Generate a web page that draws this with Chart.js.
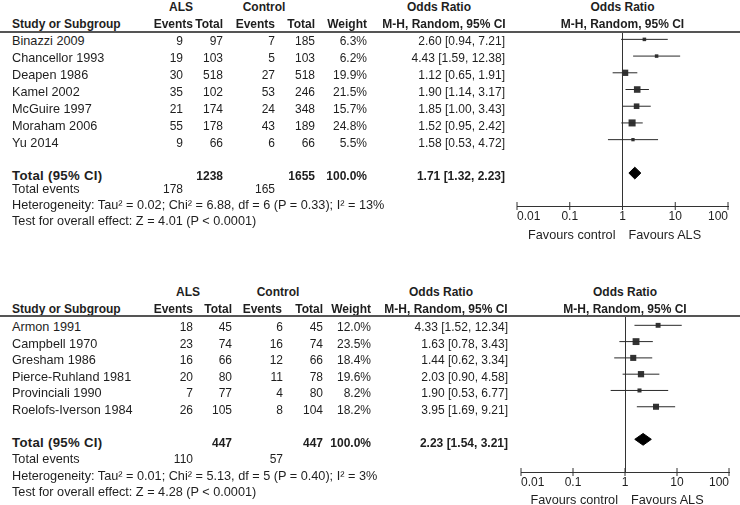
<!DOCTYPE html>
<html>
<head>
<meta charset="utf-8">
<script src="https://cdn.jsdelivr.net/npm/chart.js@4.4.0/dist/chart.umd.min.js"></script>
<style>
  html, body { margin: 0; padding: 0; background: #fff; }
  #page { position: relative; width: 740px; height: 505px; overflow: hidden;
          font-family: 'Liberation Sans', Arial, sans-serif; font-size: 12px; color: #1e1e1e; }
  .t { position: absolute; white-space: nowrap; line-height: 14px; height: 14px; }
  .b { font-weight: bold; }
  .lbl { font-size: 12.7px; }
  .lbl.b { font-size: 13.2px; letter-spacing: 0.3px; }
  .rule { position: absolute; left: 0; width: 740px; height: 2px; background: #555; }
  canvas { position: absolute; }
</style>
</head>
<body>
<div id="page">
  <canvas id="plot-one"></canvas>
  <canvas id="plot-two"></canvas>
</div>
<script>
'use strict';

// #pragma Data - first group

let studiesOne = ['Binazzi 2009', 'Chancellor 1993', 'Deapen 1986', 'Kamel 2002', 'McGuire 1997', 'Moraham 2006', 'Yu 2014'];
let alsEventsOne = [9, 19, 30, 35, 21, 55, 9];
let alsTotalOne = [97, 103, 518, 102, 174, 178, 66];
let ctlEventsOne = [7, 5, 27, 53, 24, 43, 6];
let ctlTotalOne = [185, 103, 518, 246, 348, 189, 66];
let weightOne = [6.3, 6.2, 19.9, 21.5, 15.7, 24.8, 5.5];
let orOne = [2.60, 4.43, 1.12, 1.90, 1.85, 1.52, 1.58];
let lowOne = [0.94, 1.59, 0.65, 1.14, 1.00, 0.95, 0.53];
let highOne = [7.21, 12.38, 1.91, 3.17, 3.43, 2.42, 4.72];
let pooledOne = [1.71, 1.32, 2.23];
let totalsOne = [1238, 1655];
let totalEventsOne = [178, 165];
let hetOne = 'Heterogeneity: Tau² = 0.02; Chi² = 6.88, df = 6 (P = 0.33); I² = 13%';
let testOne = 'Test for overall effect: Z = 4.01 (P < 0.0001)';

// #pragma Data - second group

let studiesTwo = ['Armon 1991', 'Campbell 1970', 'Gresham 1986', 'Pierce-Ruhland 1981', 'Provinciali 1990', 'Roelofs-Iverson 1984'];
let alsEventsTwo = [18, 23, 16, 20, 7, 26];
let alsTotalTwo = [45, 74, 66, 80, 77, 105];
let ctlEventsTwo = [6, 16, 12, 11, 4, 8];
let ctlTotalTwo = [45, 74, 66, 78, 80, 104];
let weightTwo = [12.0, 23.5, 18.4, 19.6, 8.2, 18.2];
let orTwo = [4.33, 1.63, 1.44, 2.03, 1.90, 3.95];
let lowTwo = [1.52, 0.78, 0.62, 0.90, 0.53, 1.69];
let highTwo = [12.34, 3.43, 3.34, 4.58, 6.77, 9.21];
let pooledTwo = [2.23, 1.54, 3.21];
let totalsTwo = [447, 447];
let totalEventsTwo = [110, 57];
let hetTwo = 'Heterogeneity: Tau² = 0.01; Chi² = 5.13, df = 5 (P = 0.40); I² = 3%';
let testTwo = 'Test for overall effect: Z = 4.28 (P < 0.0001)';

// axis
let tickVals = [0.01, 0.1, 1, 10, 100];
let tickLabels = ['0.01', '0.1', '1', '10', '100'];
let nullEffect = 1;

// #pragma Layout (pixels, not data)

let fontFamily = "'Liberation Sans', Arial, sans-serif";
let page = document.getElementById('page');

let layoutOne = {
  top: 0, rule: 31, rowTop: 39.5, step: 17, totalRow: 175, extraRows: [189, 205, 221],
  cols: { alsEv: 183, alsTot: 223, ctlEv: 275, ctlTot: 315, weight: 367, or: 505 },
  heads: { als: 181, ctl: 264, alsEv: 193, alsTot: 223, ctlEv: 275, ctlTot: 315, weight: 367, orCol: 444 },
  canvas: { left: 500, top: 20, w: 240, h: 225 },
  area: { l: 517, r: 728, t: 32, b: 209 },
  favY: 235
};
let layoutTwo = {
  top: 285, rule: 315, rowTop: 325.5, step: 16.6, totalRow: 442, extraRows: [459, 476, 492],
  cols: { alsEv: 193, alsTot: 232, ctlEv: 283, ctlTot: 323, weight: 371, or: 508 },
  heads: { als: 188, ctl: 278, alsEv: 193, alsTot: 232, ctlEv: 282, ctlTot: 323, weight: 371, orCol: 446 },
  canvas: { left: 500, top: 304, w: 240, h: 190 },
  area: { l: 521, r: 729, t: 316, b: 475 },
  favY: 500
};

// #pragma Helper Functions

function put(text, x, y, align, cls) {
  let el = document.createElement('div');
  el.className = 't' + (cls ? ' ' + cls : '');
  el.textContent = text;
  el.style.top = (y - 7) + 'px';
  if (align === 'left') {
    el.style.left = x + 'px';
  } else if (align === 'right') {
    el.style.right = (740 - x) + 'px';
  } else {
    el.style.left = (x - 150) + 'px';
    el.style.width = '300px';
    el.style.textAlign = 'center';
  }
  page.appendChild(el);
}

function fmt(v) {
  return v.toFixed(2);
}

function renderTable(g, studies, alsEv, alsTot, ctlEv, ctlTot, weights, ors, lows, highs, pooled, totals, totalEvents, het, test) {
  let c = g.cols;
  let h = g.heads;
  let y1 = g.top + 7;
  let y2 = g.top + 24;
  let lineX = (g.area.l + g.area.r) / 2;

  put('ALS', h.als, y1, 'center', 'b');
  put('Control', h.ctl, y1, 'center', 'b');
  put('Odds Ratio', h.orCol - 5, y1, 'center', 'b');
  put('Odds Ratio', lineX, y1, 'center', 'b');

  put('Study or Subgroup', 12, y2, 'left', 'b');
  put('Events', h.alsEv, y2, 'right', 'b');
  put('Total', h.alsTot, y2, 'right', 'b');
  put('Events', h.ctlEv, y2, 'right', 'b');
  put('Total', h.ctlTot, y2, 'right', 'b');
  put('Weight', h.weight, y2, 'right', 'b');
  put('M-H, Random, 95% CI', h.orCol, y2, 'center', 'b');
  put('M-H, Random, 95% CI', lineX, y2, 'center', 'b');

  let rule = document.createElement('div');
  rule.className = 'rule';
  rule.style.top = g.rule + 'px';
  page.appendChild(rule);

  for (let i = 0; i < studies.length; i++) {
    let y = g.rowTop + g.step * i + 1.5;
    put(studies[i], 12, y, 'left', 'lbl');
    put(String(alsEv[i]), c.alsEv, y, 'right');
    put(String(alsTot[i]), c.alsTot, y, 'right');
    put(String(ctlEv[i]), c.ctlEv, y, 'right');
    put(String(ctlTot[i]), c.ctlTot, y, 'right');
    put(weights[i].toFixed(1) + '%', c.weight, y, 'right');
    put(fmt(ors[i]) + ' [' + fmt(lows[i]) + ', ' + fmt(highs[i]) + ']', c.or, y, 'right');
  }

  let yt = g.totalRow + 1;
  put('Total (95% CI)', 12, yt, 'left', 'lbl b');
  put(String(totals[0]), c.alsTot, yt, 'right', 'b');
  put(String(totals[1]), c.ctlTot, yt, 'right', 'b');
  put('100.0%', c.weight, yt, 'right', 'b');
  put(fmt(pooled[0]) + ' [' + fmt(pooled[1]) + ', ' + fmt(pooled[2]) + ']', c.or, yt, 'right', 'b');

  put('Total events', 12, g.extraRows[0], 'left', 'lbl');
  put(String(totalEvents[0]), c.alsEv, g.extraRows[0], 'right');
  put(String(totalEvents[1]), c.ctlEv, g.extraRows[0], 'right');
  put(het, 12, g.extraRows[1], 'left', 'lbl');
  put(test, 12, g.extraRows[2], 'left', 'lbl');
}

function renderPlot(canvasId, g, ors, lows, highs, weights, pooled) {
  let cv = document.getElementById(canvasId);
  cv.width = g.canvas.w;
  cv.height = g.canvas.h;
  cv.style.left = g.canvas.left + 'px';
  cv.style.top = g.canvas.top + 'px';

  let yMin = (g.area.t - g.rowTop) / g.step;
  let yMax = (g.area.b - g.rowTop) / g.step;

  let datasets = [];

  // confidence intervals
  for (let i = 0; i < ors.length; i++) {
    datasets.push({
      showLine: true,
      data: [{ x: lows[i], y: i }, { x: highs[i], y: i }],
      borderColor: '#2a2a2a',
      borderWidth: 1,
      pointRadius: 0,
    });
  }

  // study squares, size by weight
  datasets.push({
    data: ors.map((v, i) => ({ x: v, y: i })),
    pointStyle: 'rect',
    pointRadius: ctx => Math.sqrt(weights[ctx.dataIndex]),
    pointBackgroundColor: '#333',
    pointBorderWidth: 0,
  });

  // pooled diamond
  let r = ors.length + 1;
  let half = 6 / g.step;
  datasets.push({
    showLine: true,
    fill: 'shape',
    data: [
      { x: pooled[1], y: r },
      { x: pooled[0], y: r - half },
      { x: pooled[2], y: r },
      { x: pooled[0], y: r + half },
      { x: pooled[1], y: r },
    ],
    borderColor: '#000',
    backgroundColor: '#000',
    borderWidth: 1,
    pointRadius: 0,
  });

  // tick marks across the axis line
  datasets.push({
    data: tickVals.map(v => ({ x: v, y: yMax })),
    pointStyle: 'line',
    pointRotation: 90,
    pointRadius: 4,
    pointBorderColor: '#333',
    pointBorderWidth: 1,
    clip: false,
  });

  let chartConfig = {
    type: 'scatter',
    data: { datasets: datasets },
    options: {
      responsive: false,
      animation: false,
      events: [],
      layout: {
        padding: {
          left: g.area.l - g.canvas.left,
          right: g.canvas.left + g.canvas.w - g.area.r,
          top: g.area.t - g.canvas.top,
          bottom: g.canvas.top + g.canvas.h - g.area.b - 17.4,
        },
      },
      plugins: { legend: { display: false }, tooltip: { enabled: false } },
      scales: {
        x: {
          type: 'logarithmic',
          min: tickVals[0],
          max: tickVals[tickVals.length - 1],
          position: 'bottom',
          afterBuildTicks: s => { s.ticks = tickVals.map(v => ({ value: v })); },
          grid: { display: false, drawTicks: false },
          border: { display: true, color: '#333', width: 1 },
          ticks: {
            align: 'inner',
            padding: 3,
            autoSkip: false,
            maxRotation: 0,
            color: '#1e1e1e',
            font: { family: fontFamily, size: 12 },
            callback: v => tickLabels[tickVals.indexOf(v)],
          },
        },
        y: {
          type: 'linear',
          reverse: true,
          min: yMin,
          max: yMax,
          position: { x: nullEffect },
          grid: { display: false },
          ticks: { display: false },
          border: { display: true, color: '#333', width: 1 },
        },
      },
    },
  };

  let chart = new Chart(cv.getContext('2d'), chartConfig);

  let lineX = chart.scales.x.getPixelForValue(nullEffect) + g.canvas.left;
  put('Favours control', lineX - 7, g.favY, 'right', 'lbl');
  put('Favours ALS', lineX + 6, g.favY, 'left', 'lbl');
}

// #pragma Executable

renderTable(layoutOne, studiesOne, alsEventsOne, alsTotalOne, ctlEventsOne, ctlTotalOne, weightOne, orOne, lowOne, highOne, pooledOne, totalsOne, totalEventsOne, hetOne, testOne);
renderTable(layoutTwo, studiesTwo, alsEventsTwo, alsTotalTwo, ctlEventsTwo, ctlTotalTwo, weightTwo, orTwo, lowTwo, highTwo, pooledTwo, totalsTwo, totalEventsTwo, hetTwo, testTwo);

renderPlot('plot-one', layoutOne, orOne, lowOne, highOne, weightOne, pooledOne);
renderPlot('plot-two', layoutTwo, orTwo, lowTwo, highTwo, weightTwo, pooledTwo);
</script>
</body>
</html>
